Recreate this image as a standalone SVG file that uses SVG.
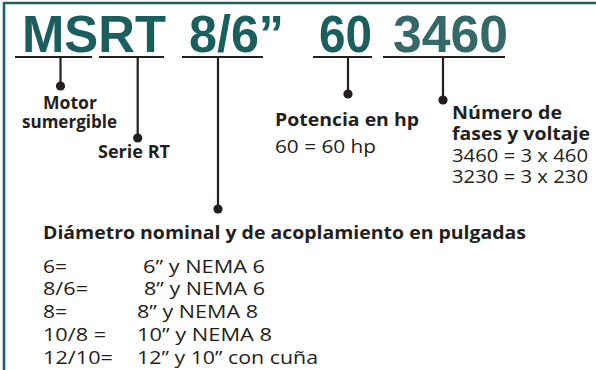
<svg xmlns="http://www.w3.org/2000/svg" width="596" height="370" viewBox="0 0 596 370">
<style>
.title{font-family:"Liberation Sans",Arial,sans-serif;font-weight:bold;font-size:52px;fill:#1b5e5e}
.b{font-family:"Open Sans","Noto Sans",sans-serif;font-weight:bold;font-size:17.5px;fill:#231f20}
.r{font-family:"Open Sans","Noto Sans",sans-serif;font-size:18.5px;fill:#231f20}
.ln{stroke:#231f20;stroke-width:2.2;fill:none}
.dot{fill:#231f20}
.border{stroke:#1b6262;stroke-width:2.6;fill:none}
</style>
<rect width="596" height="370" fill="#ffffff"/>
<path class="border" d="M4 370 V3 H596"/>
<g id="title">
<text class="title" x="22" y="52" textLength="144" lengthAdjust="spacingAndGlyphs">MSRT</text>
<text class="title" x="189" y="52" textLength="95" lengthAdjust="spacingAndGlyphs">8/6”</text>
<text class="title" x="319" y="52" textLength="53" lengthAdjust="spacingAndGlyphs">60</text>
<text class="title" x="393" y="52" textLength="115" lengthAdjust="spacingAndGlyphs" style="fill:#356868">3460</text>
</g>
<g id="connectors">
<path class="ln" d="M15 57 H92 M99 57 H164 M182 57 H263 M313 57 H372 M383 57 H505"/>
<path class="ln" d="M60.5 57 V86 M137.7 57 V138 M218 57 V209 M348 57 V94 M443 57 V100"/>
<circle class="dot" cx="60.5" cy="86" r="4.6"/>
<circle class="dot" cx="137.7" cy="138" r="4.6"/>
<circle class="dot" cx="218" cy="209" r="4.6"/>
<circle class="dot" cx="348" cy="94" r="4.6"/>
<circle class="dot" cx="443" cy="100" r="4.6"/>
</g>
<g id="motor">
<text class="b" x="43" y="109" textLength="54" lengthAdjust="spacingAndGlyphs">Motor</text>
<text class="b" x="22" y="128" textLength="95" lengthAdjust="spacingAndGlyphs">sumergible</text>
</g>
<g id="serie">
<text class="b" x="98" y="158" textLength="72" lengthAdjust="spacingAndGlyphs">Serie RT</text>
</g>
<g id="potencia">
<text class="b" x="275" y="126" textLength="144" lengthAdjust="spacingAndGlyphs" style="font-size:18.5px">Potencia en hp</text>
<text class="r" x="275" y="153" textLength="101" lengthAdjust="spacingAndGlyphs">60 = 60 hp</text>
</g>
<g id="fases">
<text class="b" x="452" y="119" textLength="110" lengthAdjust="spacingAndGlyphs">Número de</text>
<text class="b" x="452" y="140" textLength="138" lengthAdjust="spacingAndGlyphs">fases y voltaje</text>
<text class="r" x="452" y="161.7" textLength="136" lengthAdjust="spacingAndGlyphs">3460 = 3 x 460</text>
<text class="r" x="452" y="182.7" textLength="136" lengthAdjust="spacingAndGlyphs">3230 = 3 x 230</text>
</g>
<g id="diametro">
<text class="b" x="43" y="239" textLength="483" lengthAdjust="spacingAndGlyphs">Diámetro nominal y de acoplamiento en pulgadas</text>
<text class="r" x="43" y="272.5" textLength="24" lengthAdjust="spacingAndGlyphs">6=</text>
<text class="r" x="143" y="272.5" textLength="122" lengthAdjust="spacingAndGlyphs">6” y NEMA 6</text>
<text class="r" x="43" y="295.3" textLength="45" lengthAdjust="spacingAndGlyphs">8/6=</text>
<text class="r" x="144" y="295.3" textLength="121" lengthAdjust="spacingAndGlyphs">8” y NEMA 6</text>
<text class="r" x="43" y="318.1" textLength="24" lengthAdjust="spacingAndGlyphs">8=</text>
<text class="r" x="137" y="318.1" textLength="121" lengthAdjust="spacingAndGlyphs">8” y NEMA 8</text>
<text class="r" x="43" y="340.9" textLength="63" lengthAdjust="spacingAndGlyphs">10/8 =</text>
<text class="r" x="137" y="340.9" textLength="135" lengthAdjust="spacingAndGlyphs">10” y NEMA 8</text>
<text class="r" x="43" y="363.7" textLength="70" lengthAdjust="spacingAndGlyphs">12/10=</text>
<text class="r" x="137" y="363.7" textLength="181" lengthAdjust="spacingAndGlyphs">12” y 10” con cuña</text>
</g>
</svg>
